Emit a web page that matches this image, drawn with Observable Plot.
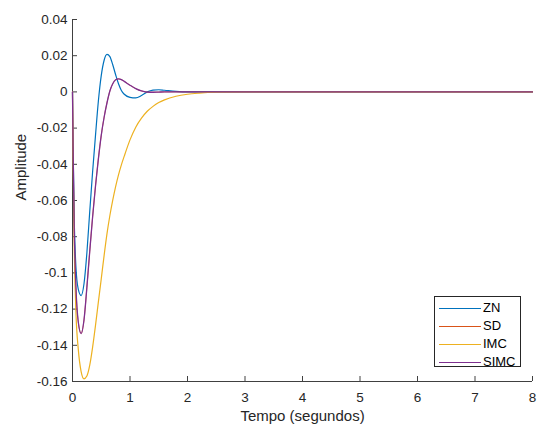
<!DOCTYPE html>
<html><head><meta charset="utf-8">
<script src="https://cdn.jsdelivr.net/npm/d3@7"></script>
<script src="https://cdn.jsdelivr.net/npm/@observablehq/plot@0.6"></script>
<style>
body{margin:0;background:#fff}
#wrap{position:relative;width:539px;height:429px}
.legend{position:absolute;left:434px;top:296px;width:87px;height:71px;border:1px solid #262626;background:#fff;box-sizing:border-box;font-family:"Liberation Sans",Arial,sans-serif;font-size:13px;color:#000}
.row{position:absolute;left:0;height:0}
.row .sw{position:absolute;left:4px;width:42px;top:0;border-top:1.2px solid}
.row .lb{position:absolute;left:48px;top:-8px;line-height:16px;white-space:nowrap}
</style></head>
<body><div id="wrap"></div>
<script>
const seriesNames = ["ZN", "SD", "IMC", "SIMC"];
const seriesColors = ["#0072BD", "#D95319", "#EDB120", "#7E2F8E"];
const time = [0, 0.01, 0.03, 0.06, 0.1, 0.15, 0.2, 0.25, 0.3, 0.35, 0.4, 0.45, 0.5, 0.55, 0.6, 0.65, 0.7, 0.75, 0.8, 0.85, 0.9, 1.0, 1.1, 1.2, 1.3, 1.4, 1.5, 1.6, 1.8, 2.0, 2.2, 2.5, 3, 4, 5, 6, 7, 8];
const ZN = [0, -0.03, -0.07, -0.097, -0.109, -0.1125, -0.106, -0.089, -0.066, -0.044, -0.024, -0.005, 0.009, 0.0175, 0.0207, 0.0195, 0.015, 0.0095, 0.0045, 0.0008, -0.0013, -0.003, -0.0033, -0.002, 0, 0.001, 0.0012, 0.0009, 0.0003, 0, 0, 0, 0, 0, 0, 0, 0, 0];
const SD = [0, -0.03, -0.075, -0.108, -0.127, -0.1335, -0.126, -0.108, -0.088, -0.069, -0.052, -0.037, -0.024, -0.014, -0.006, 0.0005, 0.0045, 0.0067, 0.0072, 0.0068, 0.0058, 0.0037, 0.0018, 0.0005, -0.0001, -0.0002, -0.0001, 0, 0, 0, 0, 0, 0, 0, 0, 0, 0, 0];
const IMC = [0, -0.035, -0.085, -0.122, -0.142, -0.1545, -0.1585, -0.157, -0.151, -0.141, -0.129, -0.116, -0.1033, -0.0903, -0.0783, -0.0683, -0.0598, -0.0523, -0.0458, -0.0403, -0.0355, -0.0265, -0.0195, -0.0145, -0.0107, -0.008, -0.0059, -0.0044, -0.0024, -0.0013, -0.0007, -0.0002, 0, 0, 0, 0, 0, 0];
const SIMC = [0, -0.03, -0.075, -0.108, -0.127, -0.1335, -0.126, -0.108, -0.088, -0.069, -0.052, -0.037, -0.024, -0.014, -0.006, 0.0005, 0.0045, 0.0067, 0.0072, 0.0068, 0.0058, 0.0037, 0.0018, 0.0005, -0.0001, -0.0002, -0.0001, 0, 0, 0, 0, 0, 0, 0, 0, 0, 0, 0];
const xTicks = [0, 1, 2, 3, 4, 5, 6, 7, 8];
const yTicks = [0.04, 0.02, 0, -0.02, -0.04, -0.06, -0.08, -0.1, -0.12, -0.14, -0.16];
const xLabel = "Tempo (segundos)";
const yLabel = "Amplitude";

const allSeries = [ZN, SD, IMC, SIMC];
const lineWidths = [1.2, 0.7, 1.2, 1.3];
const axisColor = "#404040";
const fmt = d => String(+d.toFixed(2));

const lineMarks = allSeries.map((vals, i) =>
  Plot.line(vals.map((v, j) => ({t: time[j], v})), {x: "t", y: "v", stroke: seriesColors[i], strokeWidth: lineWidths[i], curve: "monotone-x"})
);

const plot = Plot.plot({
  width: 539, height: 429,
  marginLeft: 72, marginRight: 7, marginTop: 19, marginBottom: 48,
  style: {fontFamily: "'Liberation Sans', Arial, sans-serif", fontSize: "13.5px", color: "#262626", background: "#fff", overflow: "visible"},
  x: {domain: [0, 8]},
  y: {domain: [-0.16, 0.04]},
  marks: [
    Plot.axisX({ticks: xTicks, tickSize: 0, tickPadding: 11, tickFormat: fmt, label: null, fill: "#262626"}),
    Plot.axisY({ticks: yTicks, tickSize: 0, tickPadding: 5, tickFormat: fmt, label: null, fill: "#262626"}),
    Plot.tickX(xTicks, {x: d => d, insetTop: 357, stroke: axisColor}),
    Plot.tickY(yTicks, {y: d => d, insetRight: 455, stroke: axisColor}),
    Plot.ruleX([0], {stroke: axisColor}),
    Plot.ruleY([-0.16], {stroke: axisColor}),
    ...lineMarks,
    Plot.text([xLabel], {text: d => d, frameAnchor: "bottom", dy: 39, lineAnchor: "bottom", fontSize: 15, fill: "#262626"}),
    Plot.text([yLabel], {text: d => d, frameAnchor: "left", dx: -51, rotate: -90, fontSize: 15, fill: "#262626"})
  ]
});
const wrap = document.getElementById("wrap");
wrap.appendChild(plot);
const leg = document.createElement("div");
leg.className = "legend";
const rowY = [10.5, 28.7, 46.9, 65.1];
seriesNames.forEach((n, i) => {
  const r = document.createElement("div");
  r.className = "row";
  r.style.top = rowY[i] + "px";
  r.innerHTML = `<span class="sw" style="border-color:${seriesColors[i]}"></span><span class="lb">${n}</span>`;
  leg.appendChild(r);
});
wrap.appendChild(leg);
</script></body></html>
